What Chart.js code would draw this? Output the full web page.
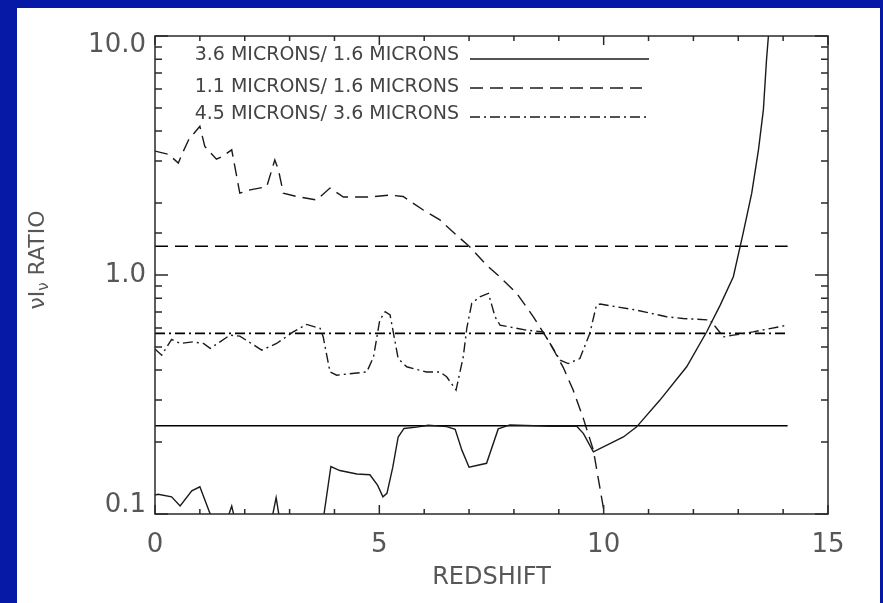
<!DOCTYPE html>
<html>
<head>
<meta charset="utf-8">
<script src="https://cdn.jsdelivr.net/npm/chart.js@4.4.1/dist/chart.umd.min.js"></script>
<style>
  html, body { margin: 0; padding: 0; width: 883px; height: 603px; overflow: hidden; background: #0618a6; }
  #panel { position: absolute; left: 17px; top: 8px; width: 863px; height: 595px; background: #ffffff; }
  canvas { display: block; }
</style>
</head>
<body>
<div id="panel"><canvas id="ratioChart" width="863" height="595"></canvas></div>
<script>
// ratio curves: redshift vs nu*I_nu ratio
const solidZ = [0, 0.07, 0.37, 0.56, 0.82, 1.0, 1.23, 1.3, 1.55, 1.71, 1.82, 2.55, 2.7, 2.82, 3.6, 3.75, 3.92, 4.12, 4.5, 4.79, 4.96, 5.08, 5.17, 5.3, 5.42, 5.55, 5.83, 6.09, 6.5, 6.69, 6.84, 7.0, 7.39, 7.65, 7.91, 8.8, 9.4, 9.55, 9.77, 10.44, 10.73, 11.25, 11.85, 12.3, 12.6, 12.89, 13.11, 13.3, 13.45, 13.56, 13.63, 13.67, 13.72];
const solidRatio = [0.120, 0.121, 0.118, 0.108, 0.125, 0.130, 0.100, 0.085, 0.088, 0.108, 0.088, 0.085, 0.117, 0.085, 0.085, 0.095, 0.158, 0.152, 0.147, 0.146, 0.132, 0.118, 0.122, 0.157, 0.210, 0.228, 0.231, 0.235, 0.232, 0.226, 0.185, 0.157, 0.163, 0.227, 0.236, 0.233, 0.233, 0.217, 0.182, 0.210, 0.231, 0.299, 0.413, 0.580, 0.750, 0.984, 1.50, 2.20, 3.34, 4.92, 7.97, 9.89, 12.0];

const dashZ = [0, 0.3, 0.52, 0.63, 0.75, 1.0, 1.11, 1.37, 1.5, 1.71, 1.89, 2.12, 2.49, 2.67, 2.75, 2.86, 3.16, 3.6, 3.9, 4.2, 4.79, 5.24, 5.53, 5.98, 6.35, 6.7, 7.02, 7.39, 7.69, 8.06, 8.43, 8.8, 9.1, 9.32, 9.55, 9.77, 9.99, 10.08];
const dashRatio = [3.30, 3.20, 2.94, 3.29, 3.68, 4.19, 3.45, 3.05, 3.13, 3.34, 2.20, 2.27, 2.34, 3.03, 2.76, 2.20, 2.13, 2.06, 2.31, 2.12, 2.12, 2.16, 2.13, 1.87, 1.70, 1.48, 1.31, 1.10, 0.98, 0.84, 0.67, 0.52, 0.41, 0.33, 0.25, 0.185, 0.107, 0.09];

const dotDashZ = [0, 0.15, 0.37, 0.56, 0.85, 1.08, 1.23, 1.67, 1.89, 2.38, 2.71, 3.08, 3.38, 3.68, 3.75, 3.9, 4.05, 4.72, 4.87, 5.01, 5.13, 5.24, 5.42, 5.61, 6.05, 6.35, 6.5, 6.71, 6.87, 6.95, 7.06, 7.24, 7.43, 7.58, 7.69, 8.28, 8.65, 9.03, 9.21, 9.47, 9.69, 9.84, 9.92, 10.29, 10.73, 11.4, 11.77, 12.37, 12.67, 12.89, 13.33, 14.1];
const dotDashRatio = [0.49, 0.462, 0.538, 0.517, 0.525, 0.517, 0.493, 0.56, 0.555, 0.485, 0.517, 0.578, 0.621, 0.598, 0.55, 0.393, 0.381, 0.393, 0.454, 0.648, 0.702, 0.68, 0.447, 0.413, 0.393, 0.393, 0.375, 0.33, 0.454, 0.60, 0.761, 0.811, 0.838, 0.669, 0.617, 0.588, 0.578, 0.44, 0.426, 0.447, 0.569, 0.749, 0.756, 0.736, 0.713, 0.669, 0.658, 0.648, 0.551, 0.56, 0.578, 0.617];

// flat reference levels, one per ratio, drawn from z = 0 to levelEndZ
const levelRatio = [0.234, 1.32, 0.570];
const levelEndZ = 14.1;

const seriesLabels = ['3.6 MICRONS/ 1.6 MICRONS', '1.1 MICRONS/ 1.6 MICRONS', '4.5 MICRONS/ 3.6 MICRONS'];
const xTickLabels = [0, 5, 10, 15];
const yTickLabels = [0.1, 1, 10];

const ink = '#1a1a1a';
const textInk = '#575757';
const dashStyles = [[], [13, 7], [10, 4, 2, 4]];

function toPoints(xs, ys) {
  return xs.map((x, i) => ({ x: x, y: ys[i] }));
}

const curves = [toPoints(solidZ, solidRatio), toPoints(dashZ, dashRatio), toPoints(dotDashZ, dotDashRatio)];

const datasets = [];
curves.forEach((pts, i) => {
  datasets.push({
    label: seriesLabels[i],
    data: pts,
    borderColor: ink,
    borderWidth: 1.4,
    borderDash: dashStyles[i],
    pointRadius: 0,
    tension: 0
  });
  datasets.push({
    label: seriesLabels[i] + ' level',
    data: [{ x: 0, y: levelRatio[i] }, { x: levelEndZ, y: levelRatio[i] }],
    borderColor: '#000',
    borderWidth: 1.6,
    borderDash: dashStyles[i],
    pointRadius: 0
  });
});

function isDecade(v) {
  const l = Math.log10(v);
  return Math.abs(l - Math.round(l)) < 1e-6;
}

// IDL style frame with inward ticks on all four sides
const frameTicks = {
  id: 'frameTicks',
  afterDatasetsDraw(chart) {
    const { ctx, chartArea: a, scales: { x, y } } = chart;
    ctx.save();
    ctx.strokeStyle = '#2a2a2a';
    ctx.lineWidth = 1.5;
    ctx.strokeRect(a.left, a.top, a.right - a.left, a.bottom - a.top);
    ctx.beginPath();
    x.ticks.forEach(t => {
      const px = x.getPixelForValue(t.value);
      const len = t.value % 5 === 0 ? 9 : 5;
      ctx.moveTo(px, a.bottom); ctx.lineTo(px, a.bottom - len);
      ctx.moveTo(px, a.top); ctx.lineTo(px, a.top + len);
    });
    y.ticks.forEach(t => {
      const py = y.getPixelForValue(t.value);
      const len = isDecade(t.value) ? 13 : 7;
      ctx.moveTo(a.left, py); ctx.lineTo(a.left + len, py);
      ctx.moveTo(a.right, py); ctx.lineTo(a.right - len, py);
    });
    ctx.stroke();
    ctx.restore();
  }
};

// legend: text first, line sample after it
const lineLegend = {
  id: 'lineLegend',
  afterDraw(chart) {
    const ctx = chart.ctx;
    const textY = [47, 79, 106];
    const lineY = [51, 80, 109];
    const lineEnd = [632, 625, 629];
    ctx.save();
    ctx.font = '19px "DejaVu Sans"';
    ctx.fillStyle = '#444';
    ctx.textAlign = 'right';
    ctx.textBaseline = 'middle';
    seriesLabels.forEach((lab, i) => {
      ctx.fillText(lab, 442, textY[i]);
      ctx.beginPath();
      ctx.setLineDash(dashStyles[i]);
      ctx.strokeStyle = ink;
      ctx.lineWidth = 1.5;
      ctx.moveTo(453, lineY[i]);
      ctx.lineTo(lineEnd[i], lineY[i]);
      ctx.stroke();
    });
    ctx.restore();
  }
};

// rotated y title with a subscript nu
const yTitle = {
  id: 'yTitle',
  afterDraw(chart) {
    const ctx = chart.ctx;
    const big = '22px "DejaVu Sans"';
    const small = '15px "DejaVu Sans"';
    const parts = [['\u03BD', big, 0], ['I', big, 0], ['\u03BD', small, 6], [' RATIO', big, 0]];
    ctx.save();
    ctx.translate(21, 252);
    ctx.rotate(-Math.PI / 2);
    ctx.fillStyle = textInk;
    ctx.textBaseline = 'middle';
    ctx.textAlign = 'left';
    let total = 0;
    parts.forEach(p => { ctx.font = p[1]; total += ctx.measureText(p[0]).width; });
    let cx = -total / 2;
    parts.forEach(p => {
      ctx.font = p[1];
      ctx.fillText(p[0], cx, p[2]);
      cx += ctx.measureText(p[0]).width;
    });
    ctx.restore();
  }
};

new Chart(document.getElementById('ratioChart'), {
  type: 'line',
  data: { datasets: datasets },
  options: {
    responsive: false,
    animation: false,
    events: [],
    layout: { padding: { left: 0, top: 28, right: 52, bottom: 0 } },
    plugins: { legend: { display: false }, tooltip: { enabled: false } },
    scales: {
      x: {
        type: 'linear',
        min: 0,
        max: 15,
        afterFit: s => { s.height = 89; },
        grid: { display: false, drawTicks: false },
        border: { display: false },
        ticks: {
          stepSize: 1,
          autoSkip: false,
          maxRotation: 0,
          padding: 16,
          color: textInk,
          font: { family: 'DejaVu Sans', size: 26 },
          callback: v => xTickLabels.includes(v) ? String(v) : ''
        },
        title: {
          display: true,
          text: 'REDSHIFT',
          color: textInk,
          font: { family: 'DejaVu Sans', size: 24 },
          padding: { top: 0, bottom: 11 }
        }
      },
      y: {
        type: 'logarithmic',
        min: 0.1,
        max: 10,
        afterFit: s => { s.width = 138; },
        grid: { display: false, drawTicks: false },
        border: { display: false },
        ticks: {
          autoSkip: false,
          padding: 9,
          color: textInk,
          font: { family: 'DejaVu Sans', size: 26, lineHeight: 0.7 },
          callback: v => {
            const hit = yTickLabels.find(t => Math.abs(t - v) < 1e-9);
            if (hit === undefined) return '';
            if (hit === 10) return ['', '10.0'];
            if (hit === 0.1) return ['0.1', ''];
            return hit.toFixed(1);
          }
        }
      }
    }
  },
  plugins: [frameTicks, lineLegend, yTitle]
});
</script>
</body>
</html>
